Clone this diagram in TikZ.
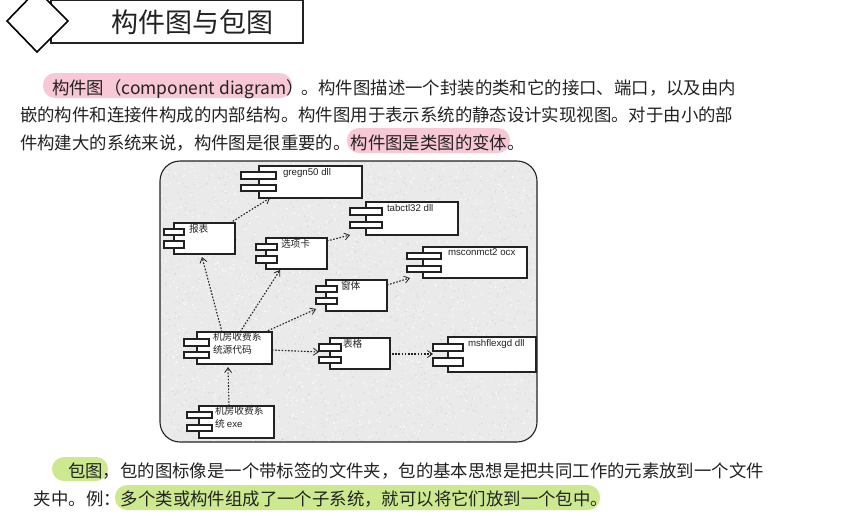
\documentclass[tikz,border=0pt]{standalone}
\usepackage{fontspec}
\setmainfont{Noto Sans CJK SC}
\newfontfamily\latinf{Liberation Sans}
\usetikzlibrary{arrows.meta}
\definecolor{panelgray}{HTML}{EAEAEA}
\definecolor{speck}{HTML}{F8F8F8}
\definecolor{speckd}{HTML}{D8D8D8}
\definecolor{hlpink}{HTML}{F8C8D6}
\definecolor{hlgreen}{HTML}{CDE98F}
\definecolor{inkc}{HTML}{222222}
\tikzset{
  x=1pt,y=-1pt,
  comp/.style={draw=inkc,line width=1.1pt,fill=white,inner sep=0pt,outer sep=0pt},
  tabbox/.style={draw=inkc,line width=1.1pt,fill=white,inner sep=0pt,outer sep=0pt},
  lbl/.style={inner sep=0pt,outer sep=0pt,anchor=north west,font=\fontsize{9.7}{11}\selectfont,text=inkc},
  txt/.style={inner sep=0pt,outer sep=0pt,anchor=base west,font=\fontsize{17.4}{17.4}\selectfont,text=inkc},
  dep/.style={draw=inkc,line width=1.1pt,dash pattern=on 1.6pt off 1.6pt,-{Straight Barb[length=5pt,width=7pt,line width=0.8pt]}},
  hl/.style={rounded corners=12pt}
}
\newcommand{\compo}[5]{%
  \node[comp,minimum width=#4-#2,minimum height=#5-#3,anchor=north west] (#1) at (#2,#3) {};
}
\newcommand{\tabs}[7]{% name x1 x2 y1 y2 y3 y4
  \node[tabbox,minimum width=#3-#2,minimum height=#5-#4,anchor=north west] (#1a) at (#2,#4) {};
  \node[tabbox,minimum width=#3-#2,minimum height=#7-#6,anchor=north west] (#1b) at (#2,#6) {};
}
\begin{document}
\begin{tikzpicture}
\useasboundingbox (0,0) rectangle (865,515);
\fill[white] (0,0) rectangle (865,515);
% header
\node[draw=inkc,line width=1.6pt,fill=white,minimum width=252pt,minimum height=43pt,anchor=north west,inner sep=0pt] (hdr) at (50,-1) {};
\draw[draw=black,line width=1.6pt,fill=white] (37,-10) -- (68,21) -- (37,52) -- (7,21) -- cycle;
\node[inner sep=0pt,font=\fontsize{27}{27}\selectfont,text=inkc] (title) at (192,22) {构件图与包图};
% highlights
\fill[hlpink,hl] (43,73) rectangle (292,98);
\fill[hlpink,hl] (347,128) rectangle (510,153);
\fill[hlgreen,hl] (52,457) rectangle (108,481);
\fill[hlgreen,hl] (115,485) rectangle (600,510);
% text
\node[txt] (t1) at (52,94) {构件图（component diagram）\hspace{-3pt}。构件图描述一个封装的类和它的接口、端口，以及由内};
\node[txt] (t2) at (20,121) {嵌的构件和连接件构成的内部结构。构件图用于表示系统的静态设计实现视图。对于由小的部};
\node[txt] (t3) at (20,149) {件构建大的系统来说，构件图是很重要的。构件图是类图的变体。};
\node[txt] (t4) at (68,477) {包图，包的图标像是一个带标签的文件夹，包的基本思想是把共同工作的元素放到一个文件};
\node[txt] (t5) at (34,505) {夹中。例：多个类或构件组成了一个子系统，就可以将它们放到一个包中。};
% panel
\draw[draw=inkc,line width=1.1pt,fill=panelgray,rounded corners=20pt] (160,161) rectangle (537,442);
\begin{scope}
\clip[rounded corners=20pt] (161,162) rectangle (536,441);
\pgfmathsetseed{42}
\foreach \i in {1,...,1500}{
  \pgfmathsetmacro{\rx}{160+377*rnd}
  \pgfmathsetmacro{\ry}{161+281*rnd}
  \fill[speck] (\rx,\ry) circle (0.9pt);
  \pgfmathsetmacro{\sx}{160+377*rnd}
  \pgfmathsetmacro{\sy}{161+281*rnd}
  \fill[speckd] (\sx,\sy) circle (0.7pt);
}
\end{scope}
% components
\compo{c1}{259}{166}{362}{198}
\tabs{c1}{241}{276}{172}{179}{185}{191}
\node[lbl] (l1) at (283,168) {\latinf gregn50 dll};
\compo{c2}{366}{202}{458}{235}
\tabs{c2}{350}{382}{208}{215}{222}{228}
\node[lbl] (l2) at (387,204) {\latinf tabctl32 dll};
\compo{c3}{174}{223}{235}{254}
\tabs{c3}{164}{184}{229}{235}{241}{248}
\node[lbl] (l3) at (189,224) {报表};
\compo{c4}{266}{238}{327}{269}
\tabs{c4}{256}{277}{244}{250}{256}{263}
\node[lbl] (l4) at (281,239) {选项卡};
\compo{c5}{423}{247}{527}{278}
\tabs{c5}{407}{441}{253}{259}{266}{272}
\node[lbl] (l5) at (448,249) {\latinf msconmct2 ocx};
\compo{c6}{326}{280}{387}{311}
\tabs{c6}{316}{337}{286}{292}{298}{304}
\node[lbl] (l6) at (341,281) {窗体};
\compo{c7}{197}{332}{272}{364}
\tabs{c7}{184}{209}{339}{346}{352}{358}
\node[lbl,align=left,font=\fontsize{9.7}{13}\selectfont] (l7) at (213,332) {机房收费系\\统源代码};
\compo{c8}{330}{338}{390}{369}
\tabs{c8}{319}{341}{344}{351}{357}{363}
\node[lbl] (l8) at (343,339) {表格};
\compo{c9}{448}{337}{536}{372}
\tabs{c9}{433}{463}{344}{351}{358}{366}
\node[lbl] (l9) at (468,339) {\latinf mshflexgd dll};
\compo{c10}{199}{406}{274}{438}
\tabs{c10}{187}{212}{412}{418}{425}{431}
\node[lbl,align=left,font=\fontsize{9.7}{13}\selectfont] (l10) at (215,406) {机房收费系\\统 \latinf exe};
% dependencies
\draw[dep] ([xshift=-5pt]c3.north east) -- ([xshift=11pt]c1.south west);
\draw[dep] ([yshift=-3pt]c4.north east) -- ([xshift=-16pt]c2.south west);
\draw[dep] ([yshift=-5pt]c6.north east) -- ([xshift=-13pt]c5.south west);
\draw[dep] ([xshift=25pt]c7.north west) -- ([xshift=28pt,yshift=-3pt]c3.south west);
\draw[dep] ([xshift=43pt]c7.north west) -- ([xshift=14pt,yshift=-1pt]c4.south west);
\draw[dep] ([xshift=-7pt]c7.north east) -- ([yshift=-5pt]c6b.south west);
\draw[dep] ([yshift=-18pt]c7.north east) -- ([yshift=-1pt]c8a.south west);
\draw[dep] ([xshift=2pt,yshift=-16pt]c8.north east) -- ([yshift=-3pt]c9a.south west);
\draw[dep] ([xshift=30pt]c10.north west) -- ([xshift=31pt,yshift=-3pt]c7.south west);
\end{tikzpicture}
\end{document}
